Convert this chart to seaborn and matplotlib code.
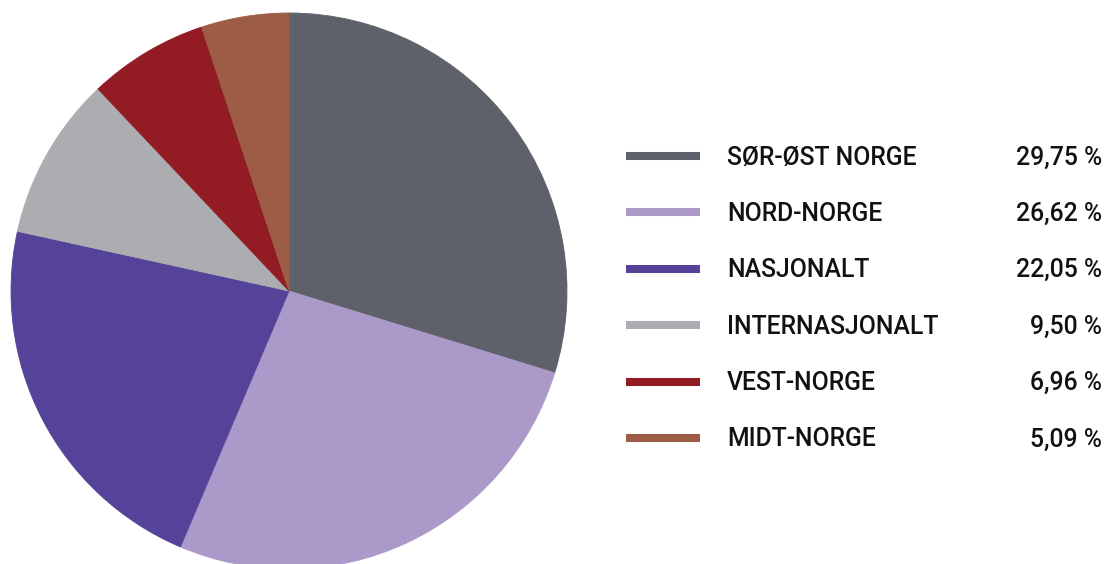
import matplotlib
matplotlib.use("Agg")
import matplotlib.pyplot as plt
import seaborn as sns

regions = ["SØR-ØST NORGE", "NORD-NORGE", "NASJONALT", "INTERNASJONALT", "VEST-NORGE", "MIDT-NORGE"]
shares = [29.75, 26.62, 22.05, 9.50, 6.96, 5.09]
colors = ["#5e6169", "#aa99c9", "#55439a", "#acadb0", "#931b23", "#9c5c45"]

sns.set_theme(style="white")
plt.rcParams['font.family'] = ['Roboto', 'DejaVu Sans']

fig = plt.figure(figsize=(11.05, 5.64), dpi=100)

# pie axes, centre ~ (289, 291) px, radius ~278 px
W, H = 1105, 564
r = 278
cx, cy = 289, H - 291
ax = fig.add_axes([(cx - r) / W, (cy - r) / H, 2 * r / W, 2 * r / H])
wedges, _ = ax.pie(shares, colors=colors, startangle=90, counterclock=False, radius=1,
                   wedgeprops=dict(linewidth=0.6))
for w, c in zip(wedges, colors):
    w.set_edgecolor(c)
ax.set_xlim(-1, 1)
ax.set_ylim(-1, 1)
ax.set_aspect("equal")
ax.axis("off")

# legend overlay in pixel coordinates
lg = fig.add_axes([0, 0, 1, 1])
lg.set_xlim(0, W)
lg.set_ylim(H, 0)
lg.axis("off")
lg.patch.set_alpha(0)
row_y = [156 + 56.4 * i for i in range(len(regions))]
for y, name, val, c in zip(row_y, regions, shares, colors):
    lg.hlines(y, 626, 700, colors=c, linewidth=5.8)
    lg.text(727, y + 1.5, name, fontsize=17.8, va="center", ha="left", color="#111111",
            fontweight="medium")
    lg.text(1102, y + 1.5, f"{val:.2f}".replace(".", ",") + " %", fontsize=17.8,
            va="center", ha="right", color="#111111", fontweight="medium")

fig.savefig("out.png", dpi=100)
